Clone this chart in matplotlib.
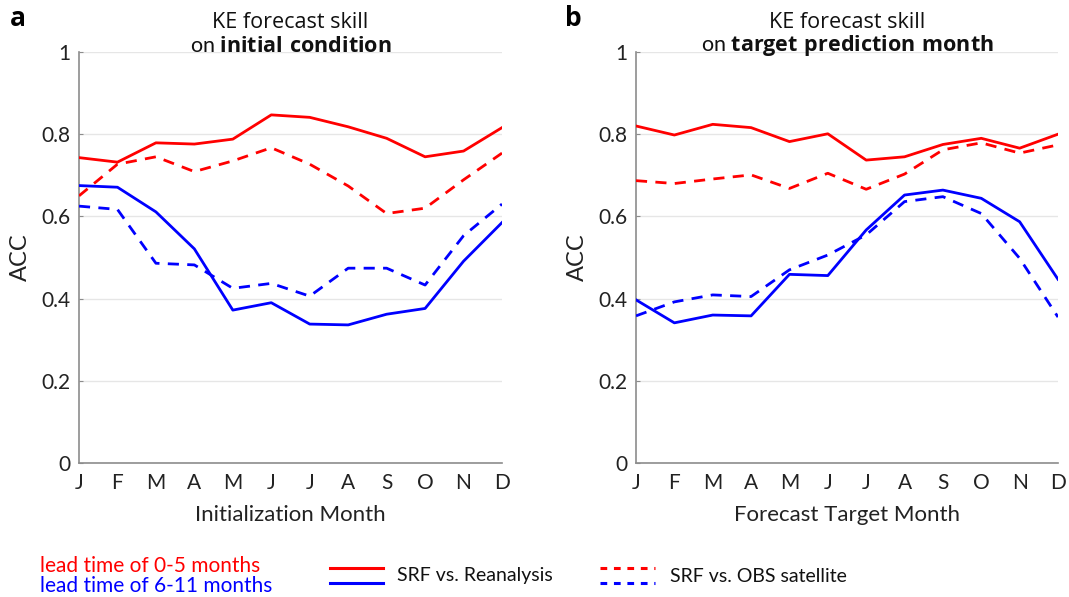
import matplotlib
matplotlib.use("Agg")
import matplotlib.pyplot as plt
from matplotlib.lines import Line2D
import numpy as np

months = ["J", "F", "M", "A", "M", "J", "J", "A", "S", "O", "N", "D"]

# Panel a: skill by initialization month
a_reana_short = [0.743, 0.732, 0.779, 0.776, 0.788, 0.847, 0.841, 0.818, 0.790, 0.745, 0.759, 0.816]
a_obs_short = [0.650, 0.727, 0.745, 0.709, 0.735, 0.767, 0.727, 0.674, 0.607, 0.620, 0.689, 0.754]
a_reana_long = [0.675, 0.671, 0.611, 0.521, 0.372, 0.390, 0.338, 0.336, 0.362, 0.376, 0.491, 0.585]
a_obs_long = [0.625, 0.617, 0.486, 0.482, 0.425, 0.437, 0.406, 0.474, 0.474, 0.433, 0.553, 0.630]

# Panel b: skill by target prediction month
b_reana_short = [0.820, 0.798, 0.824, 0.816, 0.782, 0.801, 0.737, 0.745, 0.775, 0.790, 0.766, 0.800]
b_obs_short = [0.687, 0.680, 0.691, 0.701, 0.668, 0.705, 0.666, 0.703, 0.762, 0.779, 0.754, 0.774]
b_reana_long = [0.397, 0.341, 0.360, 0.358, 0.459, 0.456, 0.567, 0.652, 0.664, 0.644, 0.587, 0.447]
b_obs_long = [0.358, 0.392, 0.409, 0.405, 0.470, 0.506, 0.555, 0.636, 0.648, 0.607, 0.498, 0.355]

FONT = "Lato"
plt.rcParams["font.family"] = [FONT, "DejaVu Sans"]
plt.rcParams["mathtext.fontset"] = "custom"
plt.rcParams["mathtext.rm"] = "Open Sans"
plt.rcParams["mathtext.bf"] = "Open Sans:bold"

RED = "#ff0000"
BLUE = "#0000ff"
SPINE = "#8c8c8c"
GRID = "#e6e6e6"

fig = plt.figure(figsize=(10.69, 5.97), dpi=100)
W, H = 1069, 597

def add_ax(x0, x1, y_top, y_bot):
    return fig.add_axes([x0 / W, 1 - y_bot / H, (x1 - x0) / W, (y_bot - y_top) / H])

axA = add_ax(79, 502, 52, 463)
axB = add_ax(636, 1058, 52, 463)

panels = [
    (axA, a_reana_short, a_obs_short, a_reana_long, a_obs_long,
     "Initialization Month", r"on $\mathbf{initial\ condition}$", "a"),
    (axB, b_reana_short, b_obs_short, b_reana_long, b_obs_long,
     "Forecast Target Month", r"on $\mathbf{target\ prediction\ month}$", "b"),
]

x = np.arange(len(months))
for ax, rs, os_, rl, ol, xlabel, title2, letter in panels:
    lw = 2.0
    ax.plot(x, rs, color=RED, lw=lw, zorder=3)
    ax.plot(x, os_, color=RED, lw=lw, ls=(0, (4, 3)), zorder=3)
    ax.plot(x, rl, color=BLUE, lw=lw, zorder=3)
    ax.plot(x, ol, color=BLUE, lw=lw, ls=(0, (4, 3)), zorder=3)

    ax.set_xlim(0, 11)
    ax.set_ylim(0, 1)
    ax.set_xticks(x)
    ax.set_xticklabels(months)
    ax.set_xticks(np.arange(1, 12, 2), minor=True)
    ax.set_yticks(np.arange(0, 1.01, 0.2))
    ax.set_yticklabels(["0", "0.2", "0.4", "0.6", "0.8", "1"])
    ax.tick_params(axis="x", which="major", length=0, labelsize=15, pad=7, labelcolor="#222222")
    ax.tick_params(axis="x", which="minor", length=3, direction="in", color=SPINE)
    ax.tick_params(axis="y", which="major", length=3, direction="in", color=SPINE,
                   labelsize=15, pad=6, labelcolor="#222222")
    ax.grid(True, axis="x", which="minor", color=GRID, lw=1)
    ax.grid(True, axis="y", which="major", color=GRID, lw=1)
    ax.set_axisbelow(True)
    for s in ["top", "right"]:
        ax.spines[s].set_visible(False)
    for s in ["left", "bottom"]:
        ax.spines[s].set_color(SPINE)
        ax.spines[s].set_linewidth(1.2)
    ax.set_ylabel("ACC", fontsize=17, labelpad=8, color="#222222")
    ax.set_xlabel(xlabel, fontsize=16, labelpad=9, color="#222222")

    ax.text(0.5, 1 + (52 - 22) / 411, "KE forecast skill", transform=ax.transAxes, ha="center",
            va="center", fontsize=15.5, family="Open Sans", color="#111111")
    ax.text(0.5, 1 + (52 - 46) / 411, title2, transform=ax.transAxes, ha="center",
            va="center", fontsize=15.5, color="#111111")

fig.text(10 / W, 1 - 19 / H, "a", fontsize=19, fontweight="bold", family="Open Sans",
         va="center", ha="left")
fig.text(565 / W, 1 - 19 / H, "b", fontsize=19, fontweight="bold", family="Open Sans",
         va="center", ha="left")

# Custom legend at the bottom
fig.text(40 / W, 1 - 566 / H, "lead time of 0-5 months", color=RED, fontsize=15,
         va="center", ha="left")
fig.text(40 / W, 1 - 586 / H, "lead time of 6-11 months", color=BLUE, fontsize=15,
         va="center", ha="left")

def legline(x0, x1, y, color, ls):
    fig.add_artist(Line2D([x0 / W, x1 / W], [1 - y / H, 1 - y / H], color=color,
                          lw=2.2, ls=ls, transform=fig.transFigure))

legline(330, 383, 568, RED, "-")
legline(330, 383, 583, BLUE, "-")
legline(600, 655, 568, RED, (0, (2.2, 2.2)))
legline(600, 655, 583, BLUE, (0, (2.2, 2.2)))
fig.text(397 / W, 1 - 576 / H, "SRF vs. Reanalysis", fontsize=14, va="center", ha="left",
         color="#111111")
fig.text(670 / W, 1 - 576 / H, "SRF vs. OBS satellite", fontsize=14, va="center", ha="left",
         color="#111111")

fig.savefig("out.png", dpi=100)
